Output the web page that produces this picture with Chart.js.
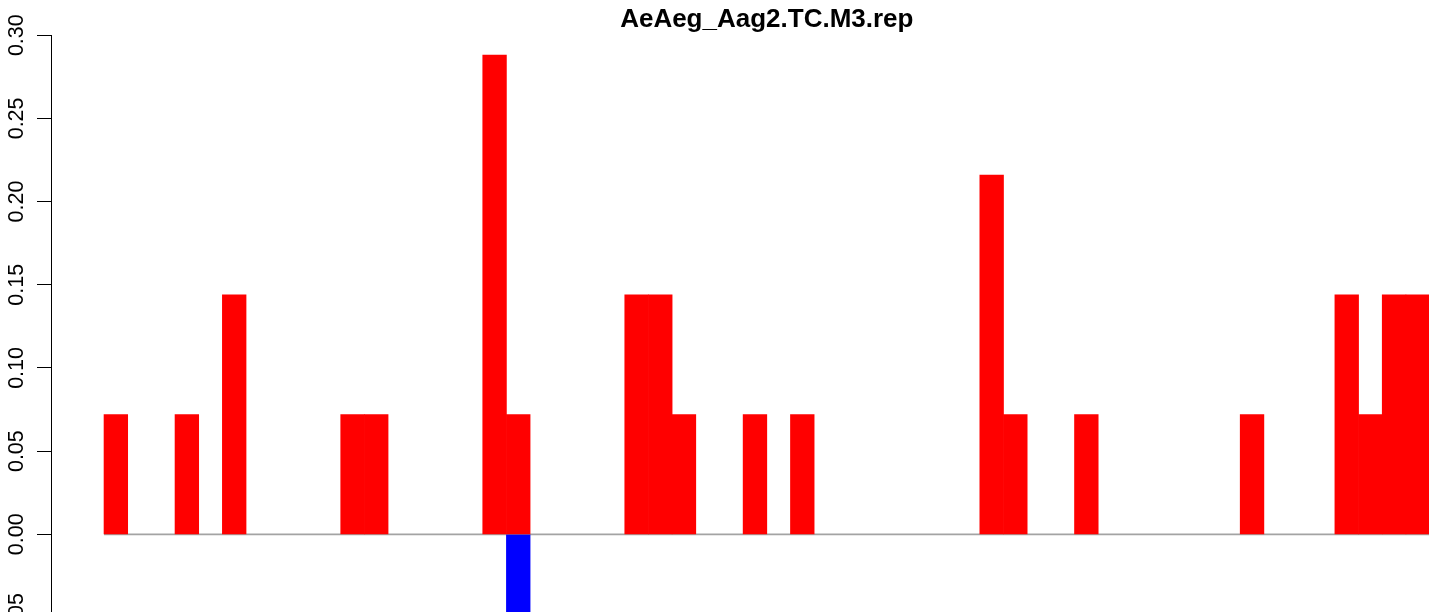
<!DOCTYPE html>
<html>
<head>
<meta charset="utf-8">
<script src="https://cdn.jsdelivr.net/npm/chart.js@4.4.1/dist/chart.umd.min.js"></script>
<style>
  html, body { margin: 0; padding: 0; background: #fff; overflow: hidden; }
  canvas { display: block; }
</style>
</head>
<body>
<canvas id="graphCanvas" width="1490" height="701"></canvas>
<script>
// chart data, one value per bin
var title = 'AeAeg_Aag2.TC.M3.rep';
var sense = [
  0.072, 0, 0, 0.072, 0, 0.144, 0, 0, 0, 0,
  0.072, 0.072, 0, 0, 0, 0, 0.288, 0.072, 0, 0,
  0, 0, 0.144, 0.144, 0.072, 0, 0, 0.072, 0, 0.072,
  0, 0, 0, 0, 0, 0, 0, 0.216, 0.072, 0,
  0, 0.072, 0, 0, 0, 0, 0, 0, 0.072, 0,
  0, 0, 0.144, 0.072, 0.144, 0.144
];
var antisense = [
  0, 0, 0, 0, 0, 0, 0, 0, 0, 0,
  0, 0, 0, 0, 0, 0, 0, -0.072, 0, 0,
  0, 0, 0, 0, 0, 0, 0, 0, 0, 0,
  0, 0, 0, 0, 0, 0, 0, 0, 0, 0,
  0, 0, 0, 0, 0, 0, 0, 0, 0, 0,
  0, 0, 0, 0, 0, 0
];
var yTicks = [-0.10, -0.05, 0.00, 0.05, 0.10, 0.15, 0.20, 0.25, 0.30];

showGraph();

function showGraph() {
    var n = sense.length;
    var toPoints = function (arr) {
        var pts = [];
        for (var i in arr) {
            pts.push({ x: Number(i) + 0.5, y: arr[i] === 0 ? null : arr[i] });
        }
        return pts;
    };
    // R barplot: 4% padding around the bars
    var pad = n * 0.04;

    var chartdata = {
        datasets: [{
            type: 'line',
            label: 'zero',
            data: [{ x: 0, y: 0 }, { x: n, y: 0 }],
            borderColor: '#a3a3a3',
            borderWidth: 1.6,
            pointRadius: 0,
            order: 3
        }, {
            label: 'sense',
            data: toPoints(sense),
            backgroundColor: '#ff0000',
            order: 1
        }, {
            label: 'antisense',
            data: toPoints(antisense),
            backgroundColor: '#0000ff',
            order: 1
        }]
    };

    new Chart(document.getElementById('graphCanvas'), {
        type: 'bar',
        data: chartdata,
        options: {
            responsive: false,
            animation: false,
            devicePixelRatio: 1,
            layout: { padding: { left: 0, right: 7.4, top: 0, bottom: 0.3 } },
            datasets: { bar: { barPercentage: 1, categoryPercentage: 1, grouped: false } },
            plugins: {
                legend: { display: false },
                tooltip: { enabled: false },
                title: {
                    display: true,
                    text: title,
                    fullSize: false,
                    color: '#000',
                    font: { family: 'Liberation Sans, Arial, Helvetica', size: 26, weight: 'bold' },
                    padding: { top: 4, bottom: 0 }
                }
            },
            scales: {
                x: {
                    type: 'linear',
                    display: false,
                    offset: false,
                    min: -pad,
                    max: n + pad,
                    afterBuildTicks: function (s) {
                        s.ticks = [{ value: -pad }, { value: n + pad }];
                    }
                },
                y: {
                    min: yTicks[0],
                    max: yTicks[yTicks.length - 1],
                    afterFit: function (s) {
                        s.width = 51;
                        s.paddingTop = 0;
                        s.paddingBottom = 0;
                    },
                    afterBuildTicks: function (s) {
                        s.ticks = yTicks.map(function (v) { return { value: v }; });
                    },
                    border: { display: true, color: '#000', width: 1 },
                    grid: { drawOnChartArea: false, drawTicks: true, tickLength: 14, color: '#000', lineWidth: 1 },
                    ticks: {
                        color: '#000',
                        minRotation: 90,
                        maxRotation: 90,
                        crossAlign: 'center',
                        padding: -4.5,
                        font: { family: 'Liberation Sans, Arial, Helvetica', size: 21.5 },
                        callback: function (v) { return Number(v).toFixed(2); }
                    }
                }
            }
        }
    });
}
</script>
</body>
</html>
